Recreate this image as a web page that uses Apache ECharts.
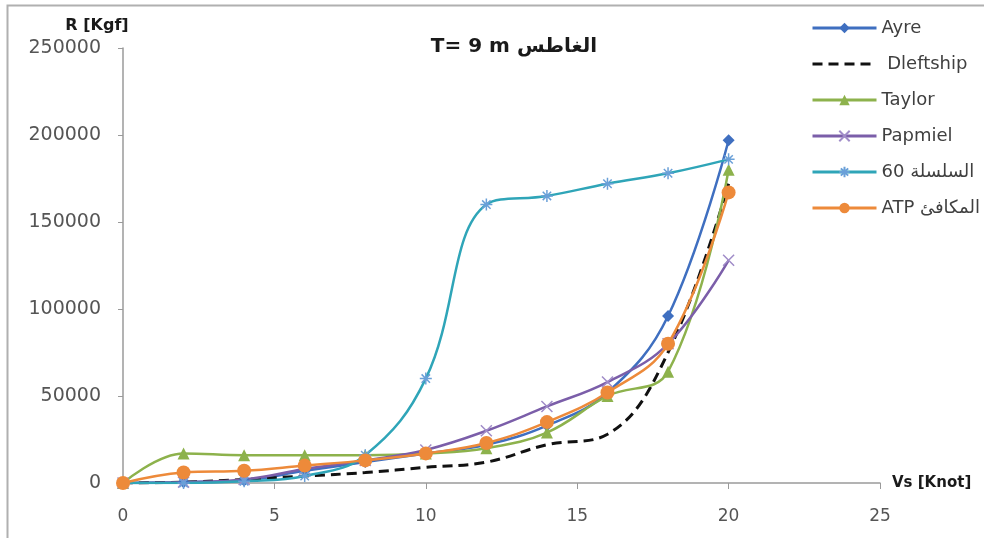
<!DOCTYPE html>
<html>
<head>
<meta charset="utf-8">
<script src="https://cdn.jsdelivr.net/npm/echarts@6/dist/echarts.min.js"></script>
<style>html,body{margin:0;padding:0;background:#fff}#c{width:984px;height:538px}</style>
</head>
<body>
<div id="c"></div>
<script>
const speeds = [0, 2, 4, 6, 8, 10, 12, 14, 16, 18, 20];
const ayre = [0, 500, 1500, 7000, 12000, 17000, 22000, 33000, 52000, 96000, 197000];
const dleftship = [0, 500, 2000, 4000, 6000, 9000, 12000, 22000, 28000, 75000, 172000];
const taylor = [0, 17000, 16000, 16000, 16000, 17000, 20000, 29000, 50000, 64000, 180000];
const papmiel = [0, 500, 2000, 8000, 13000, 19000, 30000, 44000, 58000, 80000, 128000];
const series60 = [0, 0, 1000, 4000, 16000, 60000, 160000, 165000, 172000, 178000, 186000];
const atp = [0, 6000, 7000, 10000, 13000, 17000, 23000, 35000, 52000, 80000, 167000];
const names = ['Ayre', ' Dleftship', 'Taylor', 'Papmiel', 'السلسلة 60', 'ATP المكافئ'];
const xTicks = [0, 5, 10, 15, 20, 25];

const pts = arr => speeds.map((s, i) => [s, arr[i]]);
const FONT = 'DejaVu Sans, sans-serif';
const LFONT = 'Liberation Sans, DejaVu Sans, sans-serif';
const xPath = 'path://M0,0L10,10M10,0L0,10';
const starPath = 'path://M0,5L10,5M5,0L5,10M1.5,1.5L8.5,8.5M8.5,1.5L1.5,8.5';

function mk(name, data, color, symbol, size, extra) {
  const s = {
    name, type: 'line', data: pts(data), smooth: 0.4,
    symbol, symbolSize: size,
    lineStyle: { color, width: 2.5 },
    itemStyle: { color },
    emphasis: { disabled: true }
  };
  return Object.assign(s, extra || {});
}

const chart = echarts.init(document.getElementById('c'));
chart.setOption({
  animation: false,
  backgroundColor: '#fff',
  title: {
    text: 'T= 9 m الغاطس', left: 509, top: 32, textAlign: 'center',
    textStyle: { fontFamily: FONT, fontSize: 20, fontWeight: 'bold', color: '#1a1a1a' }
  },
  legend: {
    orient: 'vertical', left: 806, top: 14, itemWidth: 64, itemHeight: 13, itemGap: 18,
    textStyle: { fontFamily: FONT, fontSize: 18, color: '#404040' },
    lineStyle: { width: 3 },
    data: names.map((n, i) => i === 1
      ? { name: n, itemStyle: { color: 'rgba(0,0,0,0)', borderWidth: 0 } }
      : { name: n })
  },
  grid: { left: 123, right: 104, top: 48, bottom: 55 },
  xAxis: {
    type: 'value', min: 0, max: 25, interval: 5,
    name: 'Vs [Knot]', nameLocation: 'end', nameGap: 12,
    nameTextStyle: { fontFamily: FONT, fontSize: 15, fontWeight: 'bold', color: '#1a1a1a', padding: [14, 0, 0, 0] },
    axisLine: { lineStyle: { color: '#9a9a9a', width: 1.5 } },
    axisTick: { show: true, length: 6, lineStyle: { color: '#9a9a9a' } },
    axisLabel: { fontFamily: FONT, fontSize: 17, color: '#555555', margin: 25,
      formatter: v => (xTicks.includes(v) ? String(v) : '') },
    splitLine: { show: false }
  },
  yAxis: {
    type: 'value', min: 0, max: 250000, interval: 50000,
    name: 'R [Kgf]', nameLocation: 'end', nameGap: 14,
    nameTextStyle: { fontFamily: FONT, fontSize: 16, fontWeight: 'bold', color: '#1a1a1a', align: 'center', padding: [0, 52, 0, 0] },
    axisLine: { show: true, lineStyle: { color: '#9a9a9a', width: 1.5 } },
    axisTick: { show: true, length: 5, lineStyle: { color: '#9a9a9a' } },
    axisLabel: { fontFamily: FONT, fontSize: 19, color: '#555555', margin: 22, formatter: v => String(v) },
    splitLine: { show: false }
  },
  graphic: [{
    type: 'rect', shape: { x: 7.5, y: 5.5, width: 1100, height: 600 },
    style: { fill: 'none', stroke: '#b0b0b0', lineWidth: 2 }, silent: true
  }],
  series: [
    mk(names[0], ayre, '#3f6fc0', 'diamond', 12),
    mk(names[1], dleftship, '#111111', 'none', 0, {
      showSymbol: false,
      lineStyle: { color: '#111111', width: 3, type: [10, 6] }
    }),
    mk(names[2], taylor, '#8db24c', 'triangle', 12),
    mk(names[3], papmiel, '#7b5ea9', xPath, 11, {
      itemStyle: { color: '#a08cc8', borderColor: '#a08cc8', borderWidth: 1.5 }
    }),
    mk(names[4], series60, '#2fa5b8', starPath, 12, {
      itemStyle: { color: '#6aa0d8', borderColor: '#6aa0d8', borderWidth: 1.5 }
    }),
    mk(names[5], atp, '#ed8a3a', 'circle', 14)
  ]
});
</script>
</body>
</html>
